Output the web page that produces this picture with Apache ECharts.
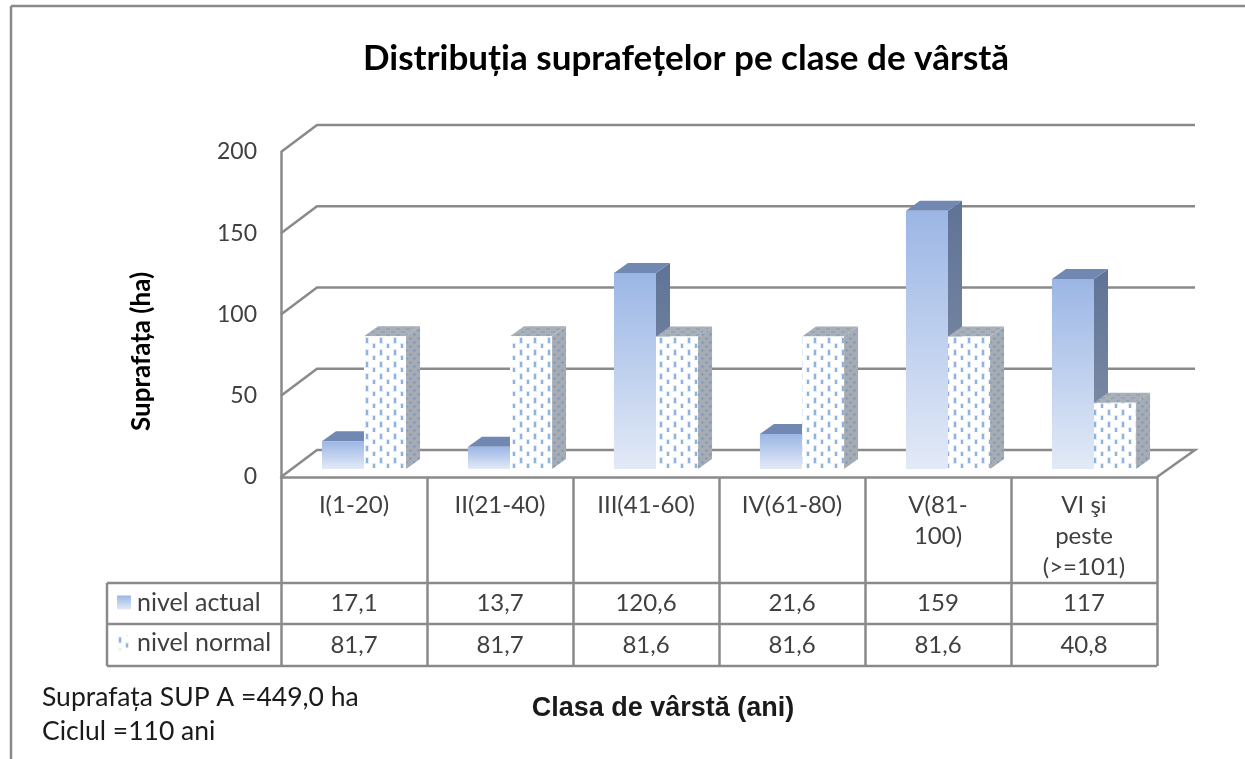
<!DOCTYPE html>
<html>
<head>
<meta charset="utf-8">
<style>html,body{margin:0;padding:0;background:#fff}#chart{width:1245px;height:759px}</style>
<script src="https://cdn.jsdelivr.net/npm/echarts@6/dist/echarts.min.js"></script>
</head>
<body>
<div id="chart"></div>
<script>
const categories = ["I(1-20)", "II(21-40)", "III(41-60)", "IV(61-80)", "V(81-\n100)", "VI şi\npeste\n(>=101)"]
const nivelActual = [17.1, 13.7, 120.6, 21.6, 159, 117]
const nivelNormal = [81.7, 81.7, 81.6, 81.6, 81.6, 40.8]
const labelActual = ["17,1", "13,7", "120,6", "21,6", "159", "117"]
const labelNormal = ["81,7", "81,7", "81,6", "81,6", "81,6", "40,8"]
const yTicks = [0, 50, 100, 150, 200]

const LINE = "#8a8a8a"
const TEXT = "#404040"
const FONT = "Lato, 'Open Sans', sans-serif"

// two offset columns of dashes, repeated over the face
function makePattern(bg, soft, dash, cw, ch, w, h) {
  const c = document.createElement("canvas")
  c.width = cw
  c.height = ch
  const ctx = c.getContext("2d")
  ctx.fillStyle = bg
  ctx.fillRect(0, 0, cw, ch)
  const stamp = (x, y) => {
    ctx.fillStyle = soft
    ctx.fillRect(x - 1, y, w + 2, h)
    ctx.fillStyle = dash
    ctx.fillRect(x, y + 1, w, h - 2)
  }
  stamp(2, 1)
  stamp(2 + cw / 2, 1 + ch / 2)
  return { image: c, repeat: "repeat" }
}

const dotsFront = makePattern("#ffffff", "#e0ebf6", "#8fb3dd", 14, 12, 2, 7)
const dotsSide = makePattern("#a7acb3", "#98a5b5", "#6688b4", 8, 8, 1, 3)
const dotsTop = makePattern("#aab0b7", "#98a5b5", "#6688b4", 10, 6, 2, 2)

const blueFront = new echarts.graphic.LinearGradient(0, 0, 0, 1, [
  { offset: 0, color: "#9bb6e5" },
  { offset: 1, color: "#e3eaf7" },
])
const blueSide = new echarts.graphic.LinearGradient(0, 0, 0, 1, [
  { offset: 0, color: "#5f7397" },
  { offset: 1, color: "#8592a8" },
])

// one 3d bar: front, side and top face, placed through the axes
function bar3d(side, front, sideFill, topFill) {
  return function (params, api) {
    const base = api.coord([api.value(0), 0])
    const top = api.coord([api.value(0), api.value(1)])
    const band = api.size([1, 0])[0]
    const w = band * 0.288
    const dx = 14
    const dy = 10
    const x0 = base[0] + 10 - (side === 0 ? w : 0)
    const x1 = x0 + w
    const y0 = base[1] - 8
    const y1 = top[1] - 8
    return {
      type: "group",
      children: [
        { type: "polygon", shape: { points: [[x1, y0], [x1 + dx, y0 - dy], [x1 + dx, y1 - dy], [x1, y1]] }, style: { fill: sideFill } },
        { type: "polygon", shape: { points: [[x0, y1], [x0 + dx, y1 - dy], [x1 + dx, y1 - dy], [x1, y1]] }, style: { fill: topFill } },
        { type: "rect", shape: { x: x0, y: y1, width: w, height: y0 - y1 }, style: { fill: front } },
      ],
    }
  }
}

// back wall lines, one per y tick
function wallLine(params, api) {
  const p = api.coord([0, api.value(0)])
  const left = p[0] - api.size([1, 0])[0] / 2
  const right = left + api.size([1, 0])[0] * 6
  const pts = [[left, p[1]], [left + 36, p[1] - 27], [right + 38, p[1] - 27]]
  if (api.value(0) === 0) pts.push([right, p[1]])
  return { type: "polyline", shape: { points: pts }, style: { stroke: LINE, lineWidth: 2.5, fill: null } }
}

// values in the table under the chart
function tableCell(rowY, labels) {
  return function (params, api) {
    const p = api.coord([api.value(0), 0])
    return {
      type: "text",
      x: p[0],
      y: rowY,
      style: { text: labels[params.dataIndex], fill: TEXT, font: "24px " + FONT, align: "center", verticalAlign: "middle" },
    }
  }
}

const tableLine = (shape) => ({ type: "line", shape, style: { stroke: LINE, lineWidth: 2.5 } })

const chart = echarts.init(document.getElementById("chart"), null, { renderer: "canvas" })

chart.setOption({
  animation: false,
  backgroundColor: "#fff",
  title: {
    text: "Distribuția suprafețelor pe clase de vârstă",
    left: 681,
    top: 36,
    textAlign: "center",
    textStyle: { color: "#000", fontFamily: FONT, fontWeight: "bold", fontSize: 35 },
  },
  legend: {
    orient: "vertical",
    left: 117,
    top: 590,
    itemWidth: 14,
    itemHeight: 14,
    itemGap: 15,
    textStyle: { color: TEXT, fontFamily: FONT, fontSize: 25, lineHeight: 20, padding: [0, 0, 0, 1] },
    data: [
      { name: "nivel actual", icon: "rect" },
      { name: "nivel normal", icon: "rect" },
    ],
    padding: 0,
  },
  grid: { left: 281, top: 152, width: 876, height: 325 },
  xAxis: {
    type: "category",
    data: categories,
    name: "Clasa de vârstă (ani)",
    nameLocation: "middle",
    nameGap: 218,
    nameTextStyle: { color: "#1a1a1a", fontFamily: "'Liberation Sans', Arial, sans-serif", fontWeight: "bold", fontSize: 27, padding: [0, 112, 0, 0] },
    axisLine: { show: true, lineStyle: { color: LINE, width: 2.5 } },
    axisTick: { show: true, length: 189, alignWithLabel: false, lineStyle: { color: LINE, width: 2.5 } },
    axisLabel: { interval: 0, color: TEXT, fontFamily: FONT, fontSize: 24, margin: 13, lineHeight: 31, verticalAlign: "top" },
  },
  yAxis: {
    type: "value",
    min: 0,
    max: 200,
    interval: 50,
    name: "Suprafața (ha)",
    nameLocation: "middle",
    nameGap: 126,
    nameTextStyle: { color: "#000", fontFamily: FONT, fontWeight: "bold", fontSize: 26, padding: [0, 74, 0, 0] },
    axisLine: { show: true, lineStyle: { color: LINE, width: 2.5 } },
    axisTick: { show: false },
    splitLine: { show: false },
    axisLabel: { color: TEXT, fontFamily: FONT, fontSize: 23, margin: 24 },
  },
  series: [
    {
      type: "custom",
      name: "wall",
      silent: true,
      clip: false,
      coordinateSystem: "cartesian2d",
      renderItem: wallLine,
      encode: { y: 0 },
      data: yTicks.map((v) => [v]),
      z: 1,
    },
    {
      type: "custom",
      name: "nivel actual",
      clip: false,
      renderItem: bar3d(0, blueFront, blueSide, "#7189b2"),
      encode: { x: 0, y: 1 },
      itemStyle: { color: blueFront },
      data: nivelActual.map((v, i) => [i, v]),
      z: 2,
    },
    {
      type: "custom",
      name: "nivel normal",
      clip: false,
      renderItem: bar3d(1, dotsFront, dotsSide, dotsTop),
      encode: { x: 0, y: 1 },
      itemStyle: { color: dotsFront },
      data: nivelNormal.map((v, i) => [i, v]),
      z: 3,
    },
    {
      type: "custom",
      name: "tabel actual",
      silent: true,
      renderItem: tableCell(603, labelActual),
      encode: { x: 0 },
      data: categories.map((c, i) => [i]),
    },
    {
      type: "custom",
      name: "tabel normal",
      silent: true,
      renderItem: tableCell(645, labelNormal),
      encode: { x: 0 },
      data: categories.map((c, i) => [i]),
    },
  ],
  graphic: [
    tableLine({ x1: 11, y1: 6, x2: 1245, y2: 6 }),
    tableLine({ x1: 11, y1: 6, x2: 11, y2: 759 }),
    tableLine({ x1: 107, y1: 583, x2: 1157, y2: 583 }),
    tableLine({ x1: 107, y1: 624, x2: 1157, y2: 624 }),
    tableLine({ x1: 107, y1: 666, x2: 1157, y2: 666 }),
    tableLine({ x1: 107, y1: 583, x2: 107, y2: 666 }),
    {
      type: "text",
      left: 42,
      top: 680,
      style: { text: "Suprafața SUP A =449,0 ha\nCiclul =110 ani", fill: "#1a1a1a", font: "26.5px " + FONT, lineHeight: 34 },
    },
  ],
})
</script>
</body>
</html>
